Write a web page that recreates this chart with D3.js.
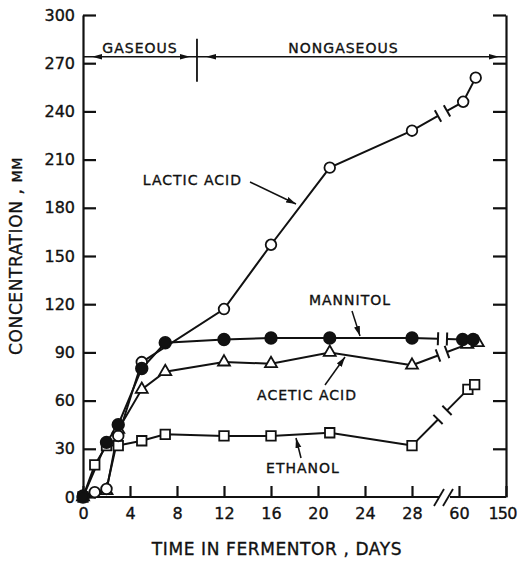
<!DOCTYPE html>
<html>
<head>
<meta charset="utf-8">
<script src="https://cdn.jsdelivr.net/npm/d3@7"></script>
<style>
  body { margin: 0; background: #fff; }
  text { font-family: 'DejaVu Sans', sans-serif; fill: #111; stroke: #111; stroke-width: 0.35px; }
</style>
</head>
<body>
<svg id="chart" width="519" height="562"></svg>
<script>
// values (days, mM)
var lacticDays = [0, 1, 2, 3, 5, 12, 16, 21, 28, 68, 92];
var lacticValues = [1, 3, 5, 38, 84, 117, 157, 205, 228, 246, 261];
var mannitolDays = [0, 2, 3, 5, 7, 12, 16, 21, 28, 67, 87];
var mannitolValues = [0, 34, 45, 80, 96, 98, 99, 99, 99, 98, 98];
var aceticDays = [0, 2, 3, 5, 7, 12, 16, 21, 28, 76, 96];
var aceticValues = [0, 4, 42, 67, 78, 84, 83, 90, 82, 95, 96];
var ethanolDays = [0, 1, 2, 3, 5, 7, 12, 16, 21, 28, 77, 90];
var ethanolValues = [0, 20, 32, 32, 35, 39, 38, 38, 40, 32, 67, 70];

var xTicks = [0, 4, 8, 12, 16, 20, 24, 28, 60, 150];
var yTicks = [0, 30, 60, 90, 120, 150, 180, 210, 240, 270, 300];
var phaseLabels = ['GASEOUS', 'NONGASEOUS'];
var phaseSplit = 9.7;
var phaseLevel = 274;
var breakBefore = 28, breakAfter = 60;

(function(){
    var svg = d3.select('#chart');

    var x = d3.scaleLinear()
        .domain([0, 28, 60, 150])
        .range([83, 412, 459, 506]);
    var y = d3.scaleLinear()
        .domain([0, 300])
        .range([497, 15]);

    var gapA = x(breakBefore) + 26,
        gapB = x(breakAfter) - 12;

    var defs = svg.append('defs');
    defs.append('marker')
        .attr('id', 'head')
        .attr('markerUnits', 'userSpaceOnUse')
        .attr('markerWidth', 10)
        .attr('markerHeight', 7)
        .attr('refX', 10)
        .attr('refY', 3.5)
        .attr('orient', 'auto')
        .append('path')
        .attr('d', 'M0,0.5 L10,3.5 L0,6.5 z')
        .attr('fill', '#111');

    var series = [
        {name: 'ethanol', days: ethanolDays, values: ethanolValues, mark: 'square'},
        {name: 'acetic', days: aceticDays, values: aceticValues, mark: 'triangle'},
        {name: 'lactic', days: lacticDays, values: lacticValues, mark: 'open'},
        {name: 'mannitol', days: mannitolDays, values: mannitolValues, mark: 'filled'}
    ];
    series.forEach(function(s) {
        s.points = s.days.map(function(d, i) { return {day: d, value: s.values[i]}; });
    });

    // axes
    var left = svg.append('g')
        .attr('transform', 'translate(' + x(0) + ',0)')
        .call(d3.axisLeft(y).tickValues(yTicks).tickSizeInner(-13).tickSizeOuter(0).tickPadding(8));
    var right = svg.append('g')
        .attr('transform', 'translate(' + x(150) + ',0)')
        .call(d3.axisLeft(y).tickValues(yTicks.slice(1)).tickSizeInner(13).tickSizeOuter(0).tickFormat(''));
    var bottom = svg.append('g')
        .attr('transform', 'translate(0,' + y(0) + ')')
        .call(d3.axisBottom(x).tickValues(xTicks).tickSizeInner(-11).tickSizeOuter(0).tickPadding(11));
    bottom.select('.domain').remove();

    [left, right, bottom].forEach(function(g) {
        g.selectAll('path, line').attr('stroke', '#111').attr('stroke-width', 2.2);
        g.selectAll('text')
            .style('font-family', "'DejaVu Sans', sans-serif")
            .style('font-size', '16px')
            .attr('fill', '#111');
    });
    // keep the last label inside the page
    bottom.selectAll('text')
        .filter(function(d) { return d === 150; })
        .attr('dx', -4)
        .style('letter-spacing', '-0.8px');

    // broken x axis line
    svg.append('line')
        .attr('x1', x(0)).attr('x2', gapA + 2)
        .attr('y1', y(0)).attr('y2', y(0))
        .attr('stroke', '#111').attr('stroke-width', 2.2);
    svg.append('line')
        .attr('x1', gapB + 3).attr('x2', x(150))
        .attr('y1', y(0)).attr('y2', y(0))
        .attr('stroke', '#111').attr('stroke-width', 2.2);
    [gapA, gapB].forEach(function(gx) {
        svg.append('line')
            .attr('x1', gx - 4).attr('y1', y(0) + 9)
            .attr('x2', gx + 6).attr('y2', y(0) - 8)
            .attr('stroke', '#111').attr('stroke-width', 1.8);
    });

    // gaseous / nongaseous band
    var py = y(phaseLevel),
        px = x(phaseSplit);
    svg.append('line')
        .attr('x1', x(0)).attr('x2', x(150))
        .attr('y1', py).attr('y2', py)
        .attr('stroke', '#111').attr('stroke-width', 1.6);
    svg.append('line')
        .attr('x1', px).attr('x2', px)
        .attr('y1', py - 18).attr('y2', py + 25)
        .attr('stroke', '#111').attr('stroke-width', 1.8);
    var heads = [
        {tip: x(0) + 9, dir: -1},
        {tip: px - 7, dir: 1},
        {tip: px + 9, dir: -1},
        {tip: x(150) - 7, dir: 1}
    ];
    svg.selectAll('path.phase-head')
        .data(heads)
        .enter().append('path')
        .attr('class', 'phase-head')
        .attr('d', function(d) {
            var b = d.tip - d.dir * 10;
            return 'M' + d.tip + ',' + py + 'L' + b + ',' + (py - 2.8) + 'L' + b + ',' + (py + 2.8) + 'Z';
        })
        .attr('fill', '#111');
    svg.append('text')
        .attr('x', (x(0) + px) / 2)
        .attr('y', py - 4)
        .attr('text-anchor', 'middle')
        .style('font-size', '14px')
        .style('letter-spacing', '1px')
        .text(phaseLabels[0]);
    svg.append('text')
        .attr('x', (px + x(150)) / 2 - 8)
        .attr('y', py - 4)
        .attr('text-anchor', 'middle')
        .style('font-size', '14px')
        .style('letter-spacing', '1px')
        .text(phaseLabels[1]);

    // data lines with the axis break
    var line = d3.line()
        .x(function(d) { return x(d.day); })
        .y(function(d) { return y(d.value); });

    var plot = svg.append('g').attr('class', 'plot');

    series.forEach(function(s) {
        var pre = s.points.filter(function(d) { return d.day <= breakBefore; }),
            post = s.points.filter(function(d) { return d.day >= breakAfter; }),
            p = pre[pre.length - 1],
            q = post[0],
            p0 = [x(p.day), y(p.value)],
            q0 = [x(q.day), y(q.value)];

        function at(gx) {
            var t = (gx - p0[0]) / (q0[0] - p0[0]);
            return [gx, p0[1] + t * (q0[1] - p0[1])];
        }
        var a = at(gapA), b = at(gapB);

        plot.append('path')
            .attr('d', line(pre))
            .attr('fill', 'none').attr('stroke', '#111').attr('stroke-width', 2);
        plot.append('path')
            .attr('d', line(post))
            .attr('fill', 'none').attr('stroke', '#111').attr('stroke-width', 2);
        plot.append('path')
            .attr('d', 'M' + p0 + 'L' + a + 'M' + b + 'L' + q0)
            .attr('fill', 'none').attr('stroke', '#111').attr('stroke-width', 2);

        var ang = Math.atan2(q0[1] - p0[1], q0[0] - p0[0]) + Math.PI / 2,
            ux = Math.cos(ang) * 6.5,
            uy = Math.sin(ang) * 6.5;
        [a, b].forEach(function(c) {
            plot.append('line')
                .attr('x1', c[0] - ux).attr('y1', c[1] - uy)
                .attr('x2', c[0] + ux).attr('y2', c[1] + uy)
                .attr('stroke', '#111').attr('stroke-width', 2);
        });
    });

    // markers
    series.forEach(function(s) {
        var g = plot.append('g').attr('class', 'marks-' + s.name);
        var sel = g.selectAll('.m')
            .data(s.points)
            .enter();
        if (s.mark === 'open' || s.mark === 'filled') {
            sel.append('circle')
                .attr('cx', function(d) { return x(d.day); })
                .attr('cy', function(d) { return y(d.value); })
                .attr('r', s.mark === 'open' ? 5.3 : 5.8)
                .attr('fill', s.mark === 'open' ? '#fff' : '#111')
                .attr('stroke', '#111')
                .attr('stroke-width', 1.8);
        } else {
            sel.append('path')
                .attr('transform', function(d) {
                    return 'translate(' + x(d.day) + ',' + y(d.value) + ')';
                })
                .attr('d', d3.symbol()
                    .type(s.mark === 'square' ? d3.symbolSquare : d3.symbolTriangle)
                    .size(s.mark === 'square' ? 90 : 62))
                .attr('fill', '#fff')
                .attr('stroke', '#111')
                .attr('stroke-width', 1.8);
        }
    });

    // series labels with leaders
    var labels = svg.append('g').attr('class', 'labels')
        .style('font-size', '14px')
        .style('letter-spacing', '1px');

    labels.append('text').attr('x', 242).attr('y', 185).attr('text-anchor', 'end').text('LACTIC ACID');
    labels.append('text').attr('x', 350).attr('y', 305).attr('text-anchor', 'middle').text('MANNITOL');
    labels.append('text').attr('x', 307).attr('y', 400).attr('text-anchor', 'middle').text('ACETIC ACID');
    labels.append('text').attr('x', 303).attr('y', 473).attr('text-anchor', 'middle').text('ETHANOL');

    var leaders = [
        [[250, 182], [296, 204]],
        [[352, 311], [360, 336]],
        [[325, 385], [345, 357]],
        [[301, 458], [296, 438]]
    ];
    labels.selectAll('line.leader')
        .data(leaders)
        .enter().append('line')
        .attr('class', 'leader')
        .attr('x1', function(d) { return d[0][0]; })
        .attr('y1', function(d) { return d[0][1]; })
        .attr('x2', function(d) { return d[1][0]; })
        .attr('y2', function(d) { return d[1][1]; })
        .attr('stroke', '#111')
        .attr('stroke-width', 1.5)
        .attr('marker-end', 'url(#head)');

    // axis titles
    svg.append('text')
        .attr('x', 277)
        .attr('y', 555)
        .attr('text-anchor', 'middle')
        .style('font-size', '17px')
        .style('letter-spacing', '0.6px')
        .text('TIME IN FERMENTOR , DAYS');

    var yt = svg.append('text')
        .attr('transform', 'translate(22,' + ((y(0) + y(300)) / 2) + ') rotate(-90)')
        .attr('text-anchor', 'middle')
        .style('font-size', '17px')
        .style('letter-spacing', '0.6px');
    yt.append('tspan').text('CONCENTRATION , ');
    yt.append('tspan').style('font-size', '14px').text('MM');
})();
</script>
</body>
</html>
